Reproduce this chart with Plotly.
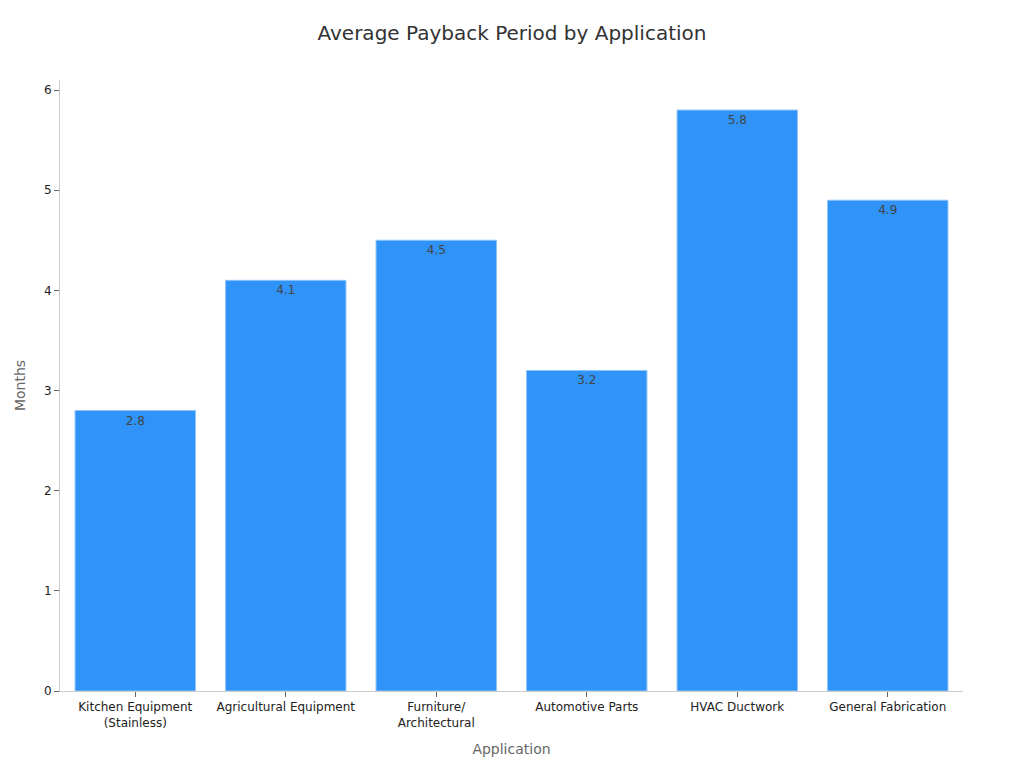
import plotly.graph_objs as go

applications = ['Kitchen Equipment<br>(Stainless)', 'Agricultural Equipment',
                'Furniture/<br>Architectural', 'Automotive Parts',
                'HVAC Ductwork', 'General Fabrication']
payback_months = [2.8, 4.1, 4.5, 3.2, 5.8, 4.9]

bars = go.Bar(
    x=applications,
    y=payback_months,
    text=payback_months,
    textposition='inside',
    insidetextanchor='end',
    textfont=dict(color='#444', size=12),
    marker=dict(color='#3093F8', line=dict(color='#8cc4fb', width=1)),
    name='Payback'
)

# page body has an 8px margin, so the figure is 1008x752
layout = go.Layout(
    title=dict(text='Average Payback Period by Application', x=0.5, y=0.976,
               xanchor='center', yanchor='top', font=dict(size=20, color='#333')),
    font=dict(family='DejaVu Sans', size=12, color='#222'),
    xaxis=dict(
        title=dict(text='Application', font=dict(size=14, color='#666')),
        showline=True, linecolor='#ccc', ticks='outside', tickcolor='#666',
        ticklen=5, showgrid=False, automargin=False
    ),
    yaxis=dict(
        title=dict(text='Months', font=dict(size=14, color='#666')),
        range=[0, 6.1], dtick=1, showline=True, linecolor='#ccc',
        ticks='outside', tickcolor='#666', ticklen=5, showgrid=False,
        zeroline=False
    ),
    bargap=0.2,
    plot_bgcolor='white',
    paper_bgcolor='white',
    margin=dict(l=52, r=53, t=72, b=69),
    width=1008, height=752,
    showlegend=False
)

fig = go.Figure(data=[bars], layout=layout)
fig.write_html('out.html')
